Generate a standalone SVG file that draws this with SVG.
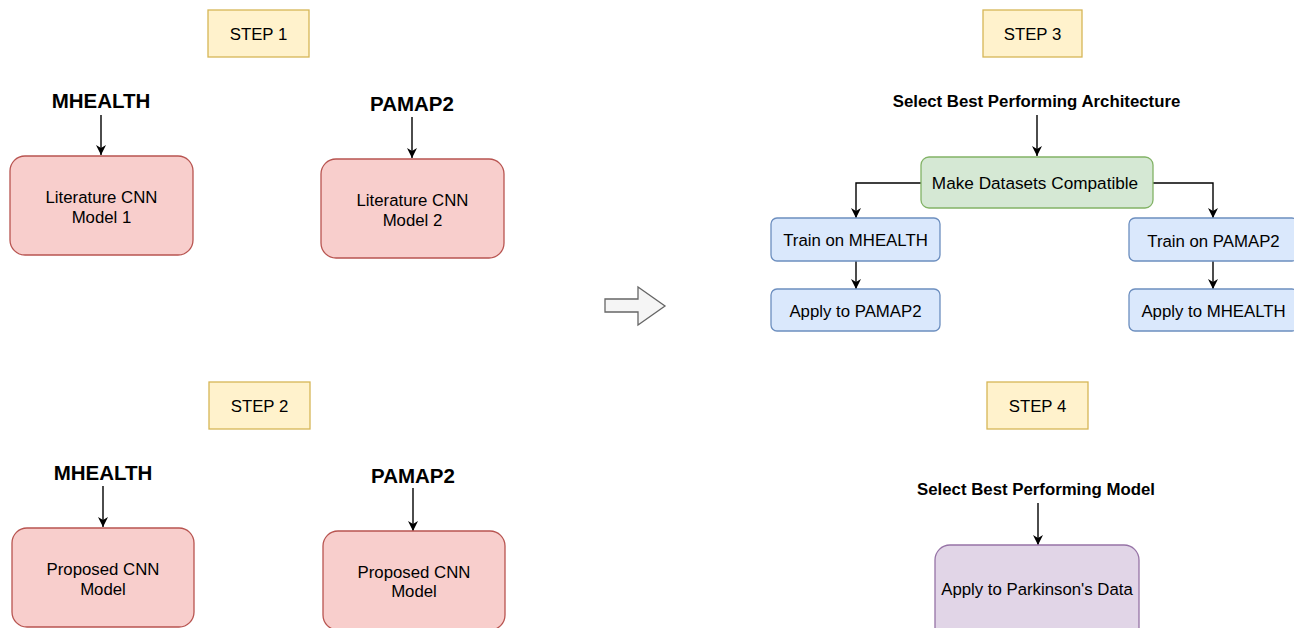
<svg xmlns="http://www.w3.org/2000/svg" width="1294" height="628" viewBox="0 0 1294 628">
<defs>
<marker id="ah" viewBox="0 0 10 10" refX="10" refY="5" markerWidth="10" markerHeight="10" markerUnits="userSpaceOnUse" orient="auto">
<path d="M0,0 L10,5 L0,10 L3,5 Z" fill="#000"/>
</marker>
<style>
text{font-family:"Liberation Sans",Arial,sans-serif;font-size:16.8px;fill:#000;text-anchor:middle}
.b{font-weight:bold}
.big{font-size:20.5px;font-weight:bold}
.step{fill:#fff2cc;stroke:#d6b656;stroke-width:1.3}
.red{fill:#f8cecc;stroke:#b85450;stroke-width:1.3}
.green{fill:#d5e8d4;stroke:#82b366;stroke-width:1.3}
.blue{fill:#dae8fc;stroke:#6c8ebf;stroke-width:1.3}
.purple{fill:#e1d5e7;stroke:#9673a6;stroke-width:1.3}
.c{fill:none;stroke:#000;stroke-width:1.4;marker-end:url(#ah)}
</style>
</defs>
<rect width="1294" height="628" fill="#fff"/>

<g id="connectors">
<path class="c" d="M101,115 V155"/>
<path class="c" d="M412,117 V158"/>
<path class="c" d="M103,486 V527"/>
<path class="c" d="M413,488 V531"/>
<path class="c" d="M1037,115 V156"/>
<path class="c" d="M921,183 H856 V218"/>
<path class="c" d="M1153,183 H1213 V218"/>
<path class="c" d="M856,261 V289"/>
<path class="c" d="M1213,261 V289"/>
<path class="c" d="M1038,503 V545"/>
</g>

<g id="big-arrow">
<path d="M605,299 H638 V287 L665,306 L638,325 V312 H605 Z" fill="#f5f5f5" stroke="#666" stroke-width="1.3"/>
</g>

<g id="step1"><rect class="step" x="208" y="10" width="101" height="47"/><text x="258.5" y="40">STEP 1</text></g>
<g id="mhealth1"><text class="big" x="101" y="108">MHEALTH</text></g>
<g id="pamap2-1"><text class="big" x="412" y="111">PAMAP2</text></g>
<g id="lit1"><rect class="red" x="10" y="156" width="183" height="99" rx="15"/><text x="101.5" y="203">Literature CNN</text><text x="101.5" y="223">Model 1</text></g>
<g id="lit2"><rect class="red" x="321" y="159" width="183" height="99" rx="15"/><text x="412.5" y="206">Literature CNN</text><text x="412.5" y="226">Model 2</text></g>

<g id="step2"><rect class="step" x="209" y="382" width="101" height="47"/><text x="259.5" y="412">STEP 2</text></g>
<g id="mhealth2"><text class="big" x="103" y="480">MHEALTH</text></g>
<g id="pamap2-2"><text class="big" x="413" y="483">PAMAP2</text></g>
<g id="prop1"><rect class="red" x="12" y="528" width="182" height="99" rx="15"/><text x="103" y="575">Proposed CNN</text><text x="103" y="595">Model</text></g>
<g id="prop2"><rect class="red" x="323" y="531" width="182" height="99" rx="15"/><text x="414" y="578">Proposed CNN</text><text x="414" y="597">Model</text></g>

<g id="step3"><rect class="step" x="983" y="10" width="99" height="47"/><text x="1032.5" y="40">STEP 3</text></g>
<g id="select-arch"><text class="b" x="1036.5" y="106.5">Select Best Performing Architecture</text></g>
<g id="compat"><rect class="green" x="921" y="157" width="232" height="51" rx="8"/><text x="1035" y="189" style="font-size:17.2px">Make Datasets Compatible</text></g>
<g id="train-mh"><rect class="blue" x="771" y="218" width="169" height="43" rx="6"/><text x="855.5" y="246">Train on MHEALTH</text></g>
<g id="apply-pa"><rect class="blue" x="771" y="289" width="169" height="42" rx="6"/><text x="855.5" y="316.5">Apply to PAMAP2</text></g>
<g id="train-pa"><rect class="blue" x="1129" y="218" width="169" height="43" rx="6"/><text x="1213.5" y="246.5">Train on PAMAP2</text></g>
<g id="apply-mh"><rect class="blue" x="1129" y="289" width="169" height="42" rx="6"/><text x="1213.5" y="317">Apply to MHEALTH</text></g>

<g id="step4"><rect class="step" x="987" y="382" width="101" height="47"/><text x="1037.5" y="412">STEP 4</text></g>
<g id="select-model"><text class="b" x="1036" y="495">Select Best Performing Model</text></g>
<g id="parkinson"><rect class="purple" x="935" y="545" width="204" height="99" rx="15"/><text x="1037" y="595">Apply to Parkinson's Data</text></g>
</svg>
